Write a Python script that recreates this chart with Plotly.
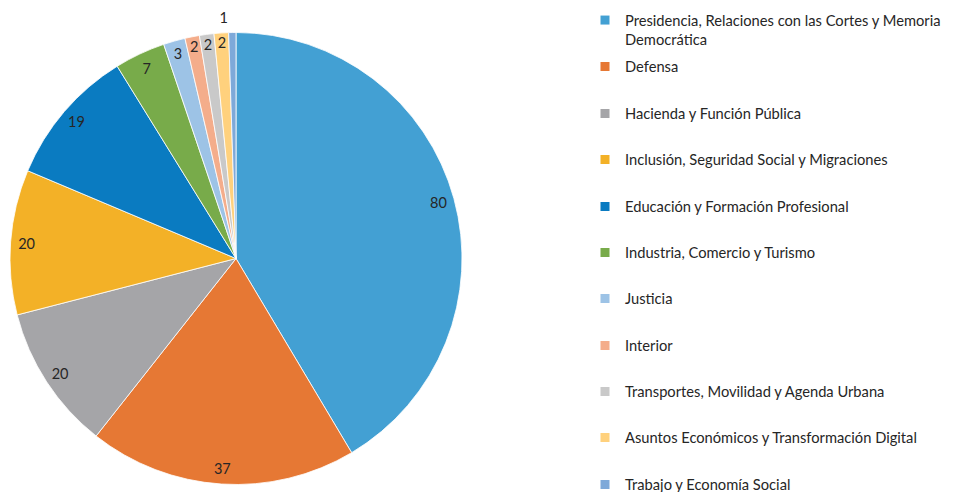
import plotly.graph_objects as go

labels = [
    "Presidencia, Relaciones con las Cortes y Memoria Democrática",
    "Defensa",
    "Hacienda y Función Pública",
    "Inclusión, Seguridad Social y Migraciones",
    "Educación y Formación Profesional",
    "Industria, Comercio y Turismo",
    "Justicia",
    "Interior",
    "Transportes, Movilidad y Agenda Urbana",
    "Asuntos Económicos y Transformación Digital",
    "Trabajo y Economía Social",
]
legend_labels = [
    "Presidencia, Relaciones con las Cortes y Memoria<br>Democrática",
    "Defensa",
    "Hacienda y Función Pública",
    "Inclusión, Seguridad Social y Migraciones",
    "Educación y Formación Profesional",
    "Industria, Comercio y Turismo",
    "Justicia",
    "Interior",
    "Transportes, Movilidad y Agenda Urbana",
    "Asuntos Económicos y Transformación Digital",
    "Trabajo y Economía Social",
]
values = [80, 37, 20, 20, 19, 7, 3, 2, 2, 2, 1]
colors = ["#43a0d3", "#e67834", "#a5a5a8", "#f3b127", "#0a7bc1", "#78ab4a",
          "#9dc3e6", "#f4ad8b", "#c9c9c9", "#ffd17d", "#7ea9d9"]

W, H = 953, 492
FONT = "Lato, 'Open Sans', sans-serif"
TXT = "#262626"
LBL = 14.5

CX, CY, R = 236, 258.5, 226


def dom(r):
    return dict(x=[(CX - r) / W, (CX + r) / W], y=[1 - (CY + r) / H, 1 - (CY - r) / H])


fig = go.Figure()
# main pie
fig.add_trace(go.Pie(
    labels=labels, values=values, sort=False, direction="clockwise", rotation=0,
    marker=dict(colors=colors, line=dict(color="white", width=0.8)),
    textinfo="none", showlegend=False, hoverinfo="label+value", domain=dom(R),
))
# transparent ring that carries the value labels near the rim
RING = 223
inside_pos = ["inside"] * (len(values) - 1) + ["none"]
fig.add_trace(go.Pie(
    labels=labels, values=values, sort=False, direction="clockwise", rotation=0,
    hole=1 - 26 / RING,
    marker=dict(colors=["rgba(0,0,0,0)"] * len(values), line=dict(width=0)),
    texttemplate="%{value}", textposition=inside_pos,
    insidetextorientation="horizontal",
    textfont=dict(family=FONT, size=LBL, color=TXT),
    showlegend=False, hoverinfo="skip", domain=dom(RING),
))
# transparent ring for the outside label of the smallest slice
outside_pos = ["none"] * (len(values) - 1) + ["outside"]
fig.add_trace(go.Pie(
    labels=labels, values=values, sort=False, direction="clockwise", rotation=0,
    hole=0.95,
    marker=dict(colors=["rgba(0,0,0,0)"] * len(values), line=dict(width=0)),
    texttemplate="%{value}", textposition=outside_pos,
    outsidetextfont=dict(family=FONT, size=LBL, color=TXT),
    showlegend=False, hoverinfo="skip", domain=dom(233),
))

# legend proxies, one legend per entry
legend_y = [30, 67, 114, 160, 207, 253, 299, 346, 392, 438, 485]
layout_legends = {}
for i, (lab, col) in enumerate(zip(legend_labels, colors)):
    name = "legend" if i == 0 else f"legend{i + 1}"
    fig.add_trace(go.Scatter(
        x=[None], y=[None], mode="markers", name=lab,
        marker=dict(symbol="square", size=9, color=col),
        showlegend=True, legend=name, hoverinfo="skip",
    ))
    layout_legends[name] = dict(
        xref="paper", yref="paper",
        x=585 / W, xanchor="left", y=1 - legend_y[i] / H, yanchor="middle",
        valign="top", bgcolor="rgba(0,0,0,0)", borderwidth=0,
        font=dict(family=FONT, size=14.7, color=TXT), itemwidth=30,
    )

fig.update_layout(
    width=W, height=H, margin=dict(l=0, r=0, t=0, b=0, autoexpand=False),
    paper_bgcolor="white", plot_bgcolor="white",
    xaxis=dict(visible=False), yaxis=dict(visible=False),
    font=dict(family=FONT, color=TXT),
    uniformtext=dict(minsize=LBL, mode="show"),
    **layout_legends,
)
fig.write_html("out.html", config={"displayModeBar": False},
               post_script="document.body.style.margin='0px';")
